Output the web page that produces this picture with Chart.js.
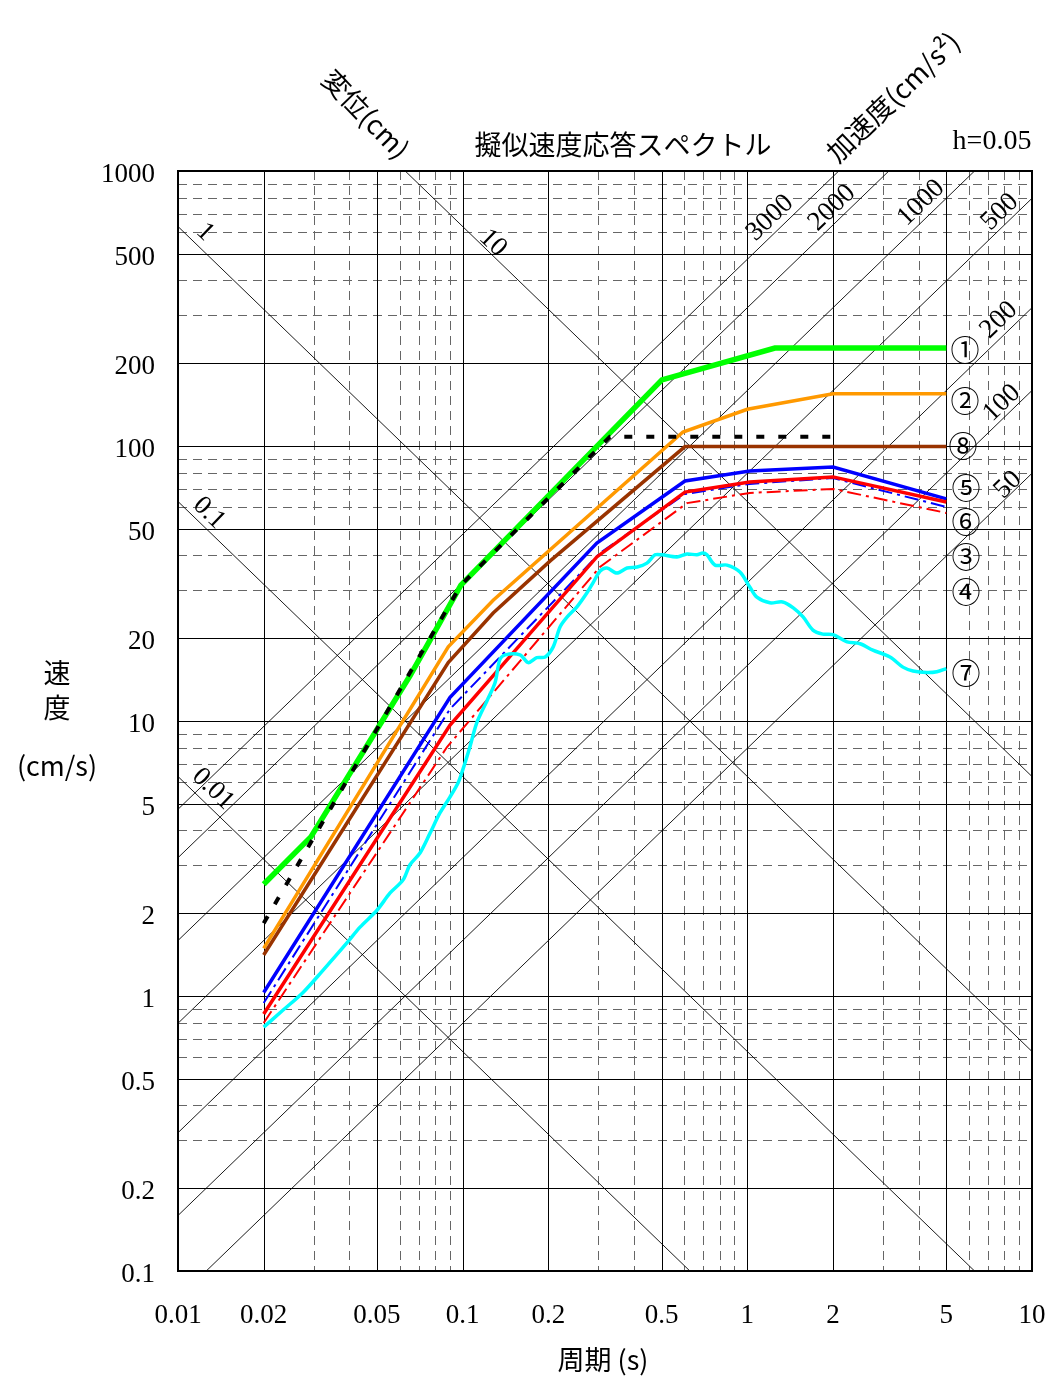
<!DOCTYPE html>
<html>
<head>
<meta charset="utf-8">
<script src="https://cdn.jsdelivr.net/npm/chart.js@4.4.1/dist/chart.umd.min.js"></script>
<style>
  html, body { margin: 0; padding: 0; background: #fff; }
  #wrap { width: 1055px; height: 1382px; }
</style>
</head>
<body>
<div id="wrap"><canvas id="spec" width="1055" height="1382"></canvas></div>
<script>
// axes: period (s) and pseudo velocity (cm/s)
const xTicks = [0.01, 0.02, 0.05, 0.1, 0.2, 0.5, 1, 2, 5, 10];
const xMinor = [0.03, 0.04, 0.06, 0.07, 0.08, 0.09, 0.3, 0.4, 0.6, 0.7, 0.8, 0.9, 3, 4, 6, 7, 8, 9];
const yTicks = [0.1, 0.2, 0.5, 1, 2, 5, 10, 20, 50, 100, 200, 500, 1000];
const yMinor = [0.3, 0.4, 0.6, 0.7, 0.8, 0.9, 3, 4, 6, 7, 8, 9, 30, 40, 60, 70, 80, 90, 300, 400, 600, 700, 800, 900];

// tripartite guide lines
const dispLines = [0.01, 0.1, 1, 10];                   // cm
const accLines = [50, 100, 200, 500, 1000, 2000, 3000];  // cm/s2

// spectra (period s, velocity cm/s)
const s1T = [0.02, 0.0293, 0.0653, 0.0986, 0.501, 1.25, 5];
const s1V = [2.55, 3.79, 14.6, 31.2, 174, 227, 227];

const s2T = [0.02, 0.089, 0.128, 0.594, 1.0, 2.0, 5];
const s2V = [1.49, 18.6, 27.5, 112.4, 136, 155, 155];

const s8T = [0.02, 0.089, 0.128, 0.203, 0.604, 5];
const s8V = [1.41, 16.3, 24.7, 38.2, 99.5, 99.5];

const s5T = [0.02, 0.0903, 0.296, 0.604, 1.02, 2.0, 5];
const s5V = [1.03, 12.2, 44.4, 74.6, 81.1, 83.9, 64.2];

const s6T = [0.02, 0.0903, 0.296, 0.604, 1.02, 2.0, 5];
const s6V = [0.86, 9.67, 39.5, 68.0, 74.0, 77.2, 62.6];

const s3T = [0.02, 0.0903, 0.3035, 0.604, 1.02, 2.0, 5];
const s3V = [0.943, 11.06, 40.8, 66.9, 72.8, 76.5, 60.0];

const s4T = [0.02, 0.0881, 0.3035, 0.614, 1.02, 2.0, 5];
const s4V = [0.798, 8.04, 36.3, 62.0, 67.5, 69.8, 57.1];

const s7T = [0.020, 0.0234, 0.0275, 0.0323, 0.0392, 0.0436, 0.050, 0.0556, 0.0617, 0.0653,
  0.0708, 0.0768, 0.0832, 0.0902, 0.0963, 0.100, 0.106, 0.112, 0.122, 0.130,
  0.135, 0.141, 0.159, 0.170, 0.182, 0.195, 0.208, 0.220, 0.233, 0.252,
  0.273, 0.287, 0.304, 0.321, 0.348, 0.378, 0.410, 0.444, 0.474, 0.501,
  0.566, 0.614, 0.665, 0.698, 0.721, 0.770, 0.848, 0.942, 1.02, 1.08,
  1.20, 1.33, 1.45, 1.57, 1.70, 1.84, 2.00, 2.24, 2.49, 2.76,
  3.17, 3.52, 3.82, 4.27, 4.63, 5.0];
const s7V = [0.771, 0.889, 1.03, 1.24, 1.56, 1.78, 2.05, 2.37, 2.64, 3.00,
  3.31, 3.91, 4.63, 5.29, 5.95, 6.63, 8.05, 9.83, 11.9, 13.8,
  16.7, 17.4, 17.4, 16.3, 17.0, 17.1, 18.6, 22.0, 23.9, 26.0,
  29.2, 31.8, 35.1, 36.0, 34.5, 36.0, 36.3, 37.5, 40.2, 40.2,
  39.5, 40.5, 40.2, 40.8, 40.2, 36.9, 36.9, 34.8, 30.7, 28.2,
  26.9, 27.1, 25.8, 23.9, 21.4, 20.7, 20.6, 19.4, 19.1, 18.1,
  17.1, 15.7, 15.2, 15.0, 15.1, 15.5];

// black dashed reference
const sBT = [0.02, 0.0986, 0.329, 2.0];
const sBV = [1.84, 31.2, 108, 108];

// text annotations
const seriesTags = [['①', 965, 350], ['②', 965, 401], ['⑧', 963, 446], ['⑤', 966, 488],
  ['⑥', 966, 522], ['③', 966, 557], ['④', 966, 592], ['⑦', 966, 673]];
const dispTags = [['1', 205, 232], ['10', 493, 243], ['0.1', 209, 513], ['0.01', 213, 789]];
const accTags = [['3000', 770, 218], ['2000', 832, 208], ['1000', 921, 203], ['500', 1000, 212],
  ['200', 999, 320], ['100', 1002, 403], ['50', 1008, 485]];

const NUM = 'Liberation Serif';
const JP = '"Noto Sans CJK JP"';

const pts = (T, V) => T.map((t, i) => ({ x: t, y: V[i] }));

function line(ctx, x1, y1, x2, y2) {
  ctx.beginPath();
  ctx.moveTo(x1, y1);
  ctx.lineTo(x2, y2);
  ctx.stroke();
}

function txt(ctx, s, x, y, font, rot, align) {
  ctx.save();
  ctx.translate(x, y);
  ctx.rotate((rot || 0) * Math.PI / 180);
  ctx.font = font;
  ctx.textAlign = align || 'center';
  ctx.textBaseline = 'middle';
  ctx.fillStyle = '#000';
  ctx.fillText(s, 0, 0);
  ctx.restore();
}

// grid + tripartite lines under the spectra
const gridPlugin = {
  id: 'tripartite',
  beforeDatasetsDraw(chart) {
    const { ctx, chartArea: a, scales: { x, y } } = chart;
    ctx.save();
    ctx.beginPath();
    ctx.rect(a.left, a.top, a.right - a.left, a.bottom - a.top);
    ctx.clip();

    ctx.lineWidth = 1;
    ctx.strokeStyle = '#666';
    ctx.setLineDash([9, 6]);
    xMinor.forEach(v => { const p = Math.round(x.getPixelForValue(v)) + 0.5; line(ctx, p, a.top, p, a.bottom); });
    yMinor.forEach(v => { const p = Math.round(y.getPixelForValue(v)) + 0.5; line(ctx, a.left, p, a.right, p); });

    ctx.setLineDash([]);
    ctx.strokeStyle = '#000';
    xTicks.forEach(v => { const p = Math.round(x.getPixelForValue(v)) + 0.5; line(ctx, p, a.top, p, a.bottom); });
    yTicks.forEach(v => { const p = Math.round(y.getPixelForValue(v)) + 0.5; line(ctx, a.left, p, a.right, p); });

    ctx.lineWidth = 0.9;
    const t0 = 0.01, t1 = 10;
    dispLines.forEach(d => {
      line(ctx, x.getPixelForValue(t0), y.getPixelForValue(2 * Math.PI * d / t0),
                x.getPixelForValue(t1), y.getPixelForValue(2 * Math.PI * d / t1));
    });
    accLines.forEach(A => {
      line(ctx, x.getPixelForValue(t0), y.getPixelForValue(A * t0 / (2 * Math.PI)),
                x.getPixelForValue(t1), y.getPixelForValue(A * t1 / (2 * Math.PI)));
    });
    ctx.restore();
  },
  afterDatasetsDraw(chart) {
    const { ctx, chartArea: a } = chart;
    ctx.save();
    ctx.lineWidth = 2;
    ctx.strokeStyle = '#000';
    ctx.strokeRect(a.left, a.top, a.right - a.left, a.bottom - a.top);
    ctx.restore();
  },
  afterDraw(chart) {
    const ctx = chart.ctx;
    dispTags.forEach(([s, x, y]) => txt(ctx, s, x, y, `27px "${NUM}"`, 44));
    accTags.forEach(([s, x, y]) => txt(ctx, s, x, y, `27px "${NUM}"`, -44));
    seriesTags.forEach(([s, x, y]) => txt(ctx, s, x, y, `29px ${JP}`));

    txt(ctx, '擬似速度応答スペクトル', 623, 145, `27px ${JP}`);
    txt(ctx, 'h=0.05', 992, 142, `28px "${NUM}"`);
    txt(ctx, '変位(cm)', 366, 114, `27px ${JP}`, 46);
    txt(ctx, '加速度(cm/s²)', 893, 97, `27px ${JP}`, -44);

    txt(ctx, '速', 57, 673, `27px ${JP}`);
    txt(ctx, '度', 57, 708, `27px ${JP}`);
    txt(ctx, '(cm/s)', 57, 766, `27px ${JP}`);
    txt(ctx, '周期 (s)', 603, 1360, `27px ${JP}`);
  }
};

const mk = (label, T, V, color, width, dash) => ({
  label,
  data: pts(T, V),
  borderColor: color,
  borderWidth: width,
  borderDash: dash || [],
  pointRadius: 0,
  fill: false,
  tension: 0
});

const datasets = [
  mk('black', sBT, sBV, '#000000', 4, [8, 14]),
  Object.assign(mk('7', s7T, s7V, '#00ffff', 3.5), { tension: 0.3 }),
  mk('6', s6T, s6V, '#ff0000', 3.5),
  mk('5', s5T, s5V, '#0000ff', 3.5),
  mk('4', s4T, s4V, '#ff0000', 2, [14, 5, 3, 5]),
  mk('3', s3T, s3V, '#0000ff', 2, [14, 5, 3, 5]),
  mk('8', s8T, s8V, '#993300', 3.5),
  mk('2', s2T, s2V, '#ff9900', 3.5),
  mk('1', s1T, s1V, '#00ff00', 5.5)
];

const fmt = v => String(v);

new Chart(document.getElementById('spec'), {
  type: 'line',
  data: { datasets },
  plugins: [gridPlugin],
  options: {
    responsive: false,
    animation: false,
    layout: { padding: { top: 171, right: 23, bottom: 0, left: 0 } },
    plugins: { legend: { display: false }, title: { display: false }, tooltip: { enabled: false } },
    scales: {
      x: {
        type: 'logarithmic',
        min: 0.01,
        max: 10,
        afterBuildTicks: s => { s.ticks = xTicks.map(v => ({ value: v })); },
        afterFit: s => { s.height = 111; s.paddingLeft = 0; s.paddingRight = 0; },
        grid: { display: false, drawTicks: false },
        border: { display: false },
        ticks: {
          autoSkip: false, maxRotation: 0, padding: 29, color: '#000',
          font: { family: NUM, size: 27 },
          callback: v => fmt(v)
        }
      },
      y: {
        type: 'logarithmic',
        min: 0.1,
        max: 1000,
        afterBuildTicks: s => { s.ticks = yTicks.map(v => ({ value: v })); },
        afterFit: s => { s.width = 178; s.paddingTop = 0; s.paddingBottom = 0; },
        grid: { display: false, drawTicks: false },
        border: { display: false },
        ticks: {
          autoSkip: false, padding: 23, labelOffset: 4, color: '#000',
          font: { family: NUM, size: 27 },
          callback: v => fmt(v)
        }
      }
    }
  }
});
</script>
</body>
</html>
